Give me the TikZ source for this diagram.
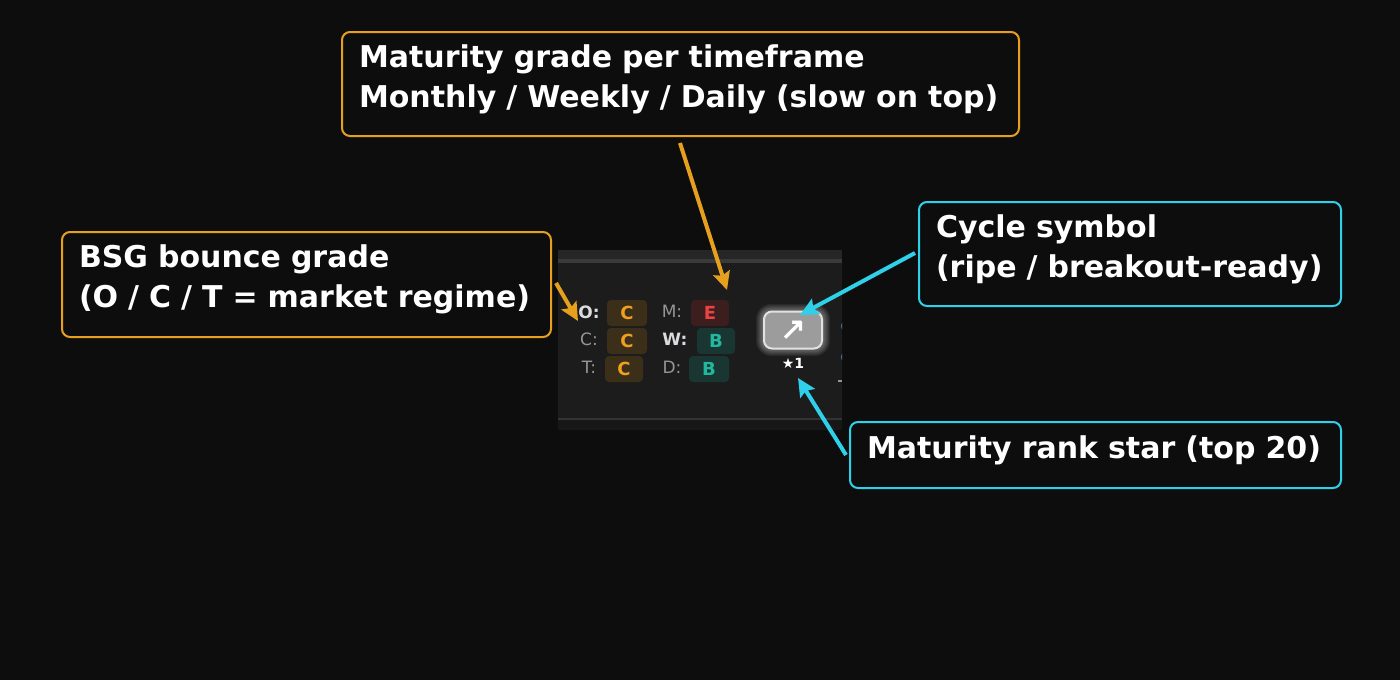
\documentclass[tikz,border=0pt]{standalone}
\usepackage{fontspec}
\setmainfont{DejaVu Sans}
\newfontfamily\symbold[FakeBold=2]{DejaVu Sans}
\usetikzlibrary{arrows.meta,calc}
\definecolor{bg}{HTML}{0D0D0D}
\definecolor{orng}{HTML}{E6A01E}
\definecolor{cyn}{HTML}{2FD0EA}
\definecolor{panel}{HTML}{1C1C1C}
\definecolor{band}{HTML}{262626}
\definecolor{bandline}{HTML}{3A3A3A}
\definecolor{botline}{HTML}{333333}
\definecolor{botband}{HTML}{171717}
\definecolor{cbg}{HTML}{3B2F1A}
\definecolor{ctx}{HTML}{F0A020}
\definecolor{ebg}{HTML}{3C1E1E}
\definecolor{etx}{HTML}{E84444}
\definecolor{bbg}{HTML}{193632}
\definecolor{btx}{HTML}{22B8A0}
\definecolor{lblgray}{HTML}{969696}
\definecolor{lblbright}{HTML}{DCDCE0}
\definecolor{btnfill}{HTML}{9C9C9C}
\definecolor{btnedge}{HTML}{E2E2E2}
\definecolor{dotblue}{HTML}{5A8FD0}
\newcommand{\lastdepth}{\rule[-16pt]{0pt}{1pt}}
\tikzset{
  callout/.style={draw=#1, line width=2pt, rounded corners=8pt, fill=bg, text=white,
    font=\fontsize{30}{40}\selectfont\bfseries, align=left, anchor=north west,
    inner xsep=17pt, inner ysep=0pt},
  arr/.style={draw=#1, line width=4pt, -{Stealth[length=18pt,width=17pt,inset=3pt]}},
  badge/.style={rounded corners=4pt, minimum width=40pt, minimum height=26pt, inner sep=0pt,
    font=\fontsize{18}{18}\selectfont\bfseries},
  cbadge/.style={badge, fill=cbg, text=ctx},
  ebadge/.style={badge, fill=ebg, text=etx},
  bbadge/.style={badge, fill=bbg, text=btx},
  lbl/.style={text=lblgray, font=\fontsize{17}{17}\selectfont, inner sep=0pt},
  lblb/.style={text=lblbright, font=\fontsize{17}{17}\selectfont\bfseries, inner sep=0pt},
}
\begin{document}
\begin{tikzpicture}[x=1pt,y=-1pt]
\useasboundingbox (0,0) rectangle (1400,680);
\fill[bg] (0,0) rectangle (1400,680);

% panel
\fill[panel] (558,250) rectangle (842,430);
\fill[band] (558,250) rectangle (842,259);
\fill[bandline] (558,259) rectangle (842,263);
\fill[botline] (558,418) rectangle (842,420);
\fill[botband] (558,420) rectangle (842,430);
\begin{scope}
  \clip (558,250) rectangle (842,430);
  \draw[dotblue, line width=1.5pt] (849,326) circle (7);
  \draw[dotblue, line width=1.5pt] (849,357) circle (7);
  \fill[lblgray] (838,380) rectangle (842,382);
\end{scope}

% BSG grades
\node[lblb] (lO) at (589,312) {O:};
\node[lbl]  (lC) at (589,339) {C:};
\node[lbl]  (lT) at (589,367) {T:};
\node[cbadge] (bO) at (627,313) {C};
\node[cbadge] (bC) at (627,341) {C};
\node[cbadge, minimum width=38pt] (bT) at (624,369) {C};

% maturity grades
\node[lbl]  (lM) at (672,311) {M:};
\node[lblb] (lW) at (675,339) {W:};
\node[lbl]  (lD) at (672,367) {D:};
\node[ebadge, minimum width=38pt] (bM) at (710,313) {E};
\node[bbadge, minimum width=38pt] (bW) at (716,341) {B};
\node[bbadge] (bD) at (709,369) {B};

% cycle button with glow
\foreach \g/\r in {7/15,6/14,5/13,4/12,3/11,2/10,1/9}{
  \fill[white, fill opacity=0.055, rounded corners=\r pt] (763-\g,311-\g) rectangle (823+\g,349+\g);
}
\node[draw=btnedge, line width=2pt, fill=btnfill, rounded corners=8pt, minimum width=58pt,
  minimum height=37pt, inner sep=0pt, text=white, font=\fontsize{31}{31}\symbold]
  (btn) at (793,330) {↗};
\node[text=white, font=\fontsize{14}{14}\selectfont\bfseries, inner sep=1pt] (star) at (793,363) {★1};

% callouts
\node[callout=orng, text width=643pt, minimum height=104pt] (c1) at (341,31)
  {Maturity grade per timeframe\\Monthly / Weekly / Daily (slow on top)\lastdepth};
\node[callout=orng, text width=455pt, minimum height=105pt] (c2) at (61,231)
  {BSG bounce grade\\(O / C / T = market regime)\lastdepth};
\node[callout=cyn, text width=388pt, minimum height=104pt] (c3) at (918,201)
  {Cycle symbol\\(ripe / breakout-ready)\lastdepth};
\node[callout=cyn, text width=457pt, minimum height=66pt] (c4) at (849,421)
  {Maturity rank star (top 20)\lastdepth};

% connectors
\path (c1.south west) ++(339,6) coordinate (s1);
\coordinate (t1) at (727,290);
\path (c2.north east) ++(4,52) coordinate (s2);
\coordinate (t2) at (578,321);
\path (c3.north west) ++(-3,52) coordinate (s3);
\coordinate (t3) at (800,315);
\path (c4.north west) ++(-3,34) coordinate (s4);
\coordinate (t4) at (798,378);
\draw[arr=orng] (s1) -- (t1);
\draw[arr=orng] (s2) -- (t2);
\draw[arr=cyn] (s3) -- (t3);
\draw[arr=cyn] (s4) -- (t4);
\end{tikzpicture}
\end{document}
